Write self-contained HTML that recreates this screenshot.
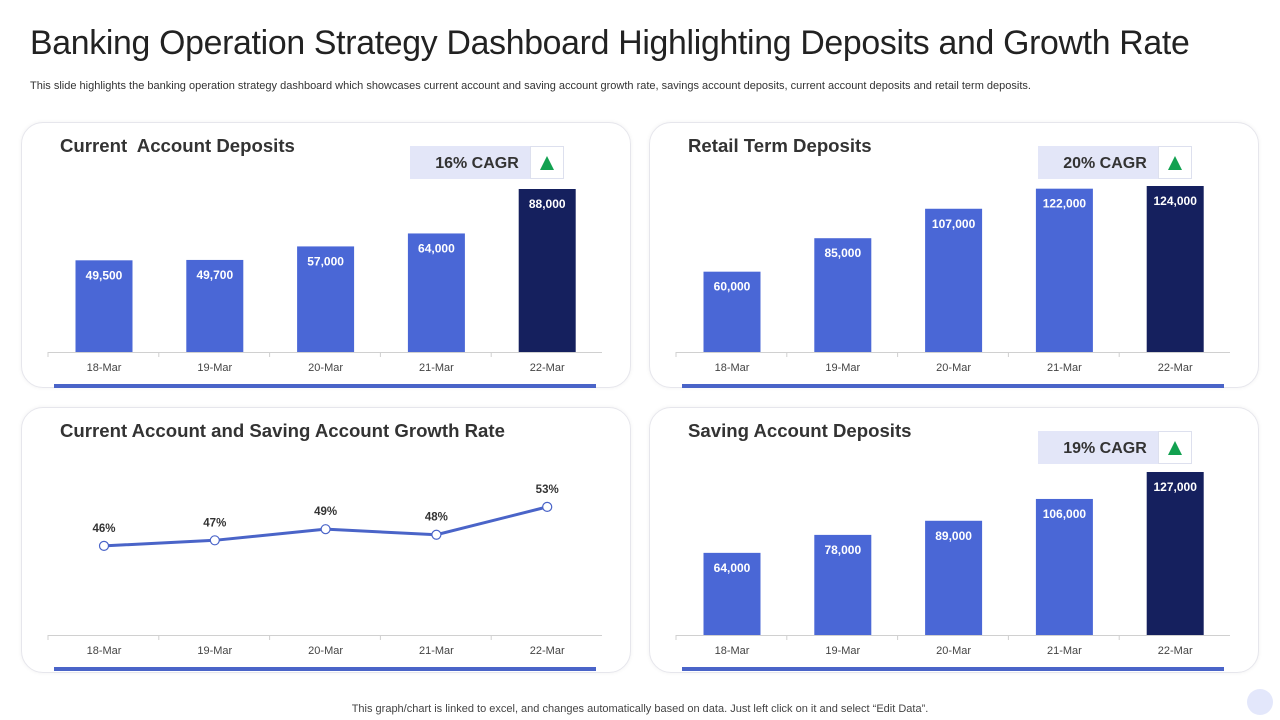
<!DOCTYPE html>
<html><head><meta charset="utf-8">
<style>
body{margin:0;width:1280px;height:720px;background:#fff;font-family:"Liberation Sans",sans-serif;position:relative;overflow:hidden}
.title{position:absolute;left:30px;top:24px;font-size:33.8px;color:#222;letter-spacing:-0.3px}
.sub{position:absolute;left:30px;top:80px;font-size:11px;color:#333}
.card{position:absolute;width:608px;height:264px;border:1px solid #e6e6ec;border-radius:22px;box-shadow:0 0 4px rgba(0,0,0,0.06)}
.ct{position:absolute;left:38px;top:12px;font-size:18.6px;font-weight:bold;color:#333}
.foot{position:absolute;left:0;width:1280px;top:703px;text-align:center;font-size:11px;color:#444}
svg{position:absolute;left:0;top:0}
</style></head><body>
<div class="title">Banking Operation Strategy Dashboard Highlighting Deposits and Growth Rate</div>
<div class="sub">This slide highlights the banking operation strategy dashboard which showcases current account and saving account growth rate, savings account deposits, current account deposits and retail term deposits.</div>
<div class="card" style="left:21px;top:122px"><div class="ct">Current&nbsp; Account Deposits</div></div>
<div class="card" style="left:649px;top:122px"><div class="ct">Retail Term Deposits</div></div>
<div class="card" style="left:21px;top:407px"><div class="ct">Current Account and Saving Account Growth Rate</div></div>
<div class="card" style="left:649px;top:407px"><div class="ct">Saving Account Deposits</div></div>
<div class="foot">This graph/chart is linked to excel, and changes automatically based on data. Just left click on it and select “Edit Data”.</div>
<div style="position:absolute;left:1247px;top:689px;width:26px;height:26px;border-radius:50%;background:#e3e7fb"></div>
<svg id="ch" width="1280" height="720"></svg>
<script>
const categories=["18-Mar","19-Mar","20-Mar","21-Mar","22-Mar"];
const currentDeposits=[49500,49700,57000,64000,88000];
const retailDeposits=[60000,85000,107000,122000,124000];
const savingDeposits=[64000,78000,89000,106000,127000];
const growthRate=[46,47,49,48,53];
const cagrLabels=["16% CAGR","20% CAGR","19% CAGR"];
const NS="http://www.w3.org/2000/svg";
const svg=document.getElementById('ch');
function mk(t,a,txt){const e=document.createElementNS(NS,t);for(const k in a)e.setAttribute(k,a[k]);if(txt!==undefined)e.textContent=txt;svg.appendChild(e);return e;}
function axis(ox,base){
  const l=mk('line',{x1:ox+48,x2:ox+602,y1:base+0.5,y2:base+0.5,stroke:'#d0d0d0'});
  
  
  categories.forEach((c,i)=>{
    const x=ox+48+i*110.8;
    mk('line',{x1:x,x2:x,y1:base,y2:base+5,stroke:'#d0d0d0'});
    const t=mk('text',{x:ox+104+i*110.8,y:base+19,'text-anchor':'middle','font-size':11,fill:'#444'},c);
    
    
  });
  const u=mk('rect',{x:ox+54,y:base+32,width:542,height:4,fill:'#4a64c8'});
  
  
}
function bars(ox,base,vals,maxv,maxh,badge,by){
  axis(ox,base);
  const sc=v=>v/maxv*maxh;
  vals.forEach((v,i)=>{
    const cx=ox+104+i*110.8,h=sc(v);
    const r=mk('rect',{x:cx-28.5,y:base-h,width:57,height:h,fill:i==vals.length-1?'#15205e':'#4a67d6'});
    
    
    const t=mk('text',{x:cx,y:base-h+19,'text-anchor':'middle','font-size':12,'font-weight':'bold',fill:'#fff'},v.toLocaleString('en-US'));
    
    
  });
  const b=mk('rect',{x:ox+410,y:by,width:120,height:33,fill:'#e3e6f8'});
  
  
  mk('rect',{x:ox+530.5,y:by+0.5,width:33,height:32,fill:'#fff',stroke:'#dde0ee'});
  mk('text',{x:ox+477,y:by+22,'text-anchor':'middle','font-size':16,'font-weight':'bold',fill:'#333'},badge);
  const a=mk('polygon',{points:`${ox+540},${by+24} ${ox+554},${by+24} ${ox+547},${by+10}`,fill:'#12a150'});
  
  
}
bars(0,352,currentDeposits,88000,163,cagrLabels[0],146);
bars(628,352,retailDeposits,124000,166,cagrLabels[1],146);
bars(628,635,savingDeposits,127000,163,cagrLabels[2],431);
axis(0,635);
const ymin=30,pxPer=5.57;
const ly=v=>635-(v-ymin)*pxPer;
const pts=growthRate.map((v,i)=>[104+i*110.8,ly(v)]);
const pl=mk('polyline',{points:pts.map(p=>p.join(',')).join(' '),fill:'none',stroke:'#4a64c8','stroke-width':3});


pts.forEach((p,i)=>{
  const c=mk('circle',{cx:p[0],cy:p[1],r:4.5,fill:'#fff',stroke:'#4a64c8','stroke-width':1.2});
  
  
  const t=mk('text',{x:p[0],y:p[1]-14,'text-anchor':'middle','font-size':11.5,'font-weight':'bold',fill:'#333'},growthRate[i]+'%');
  
  
});
</script>
</body></html>
